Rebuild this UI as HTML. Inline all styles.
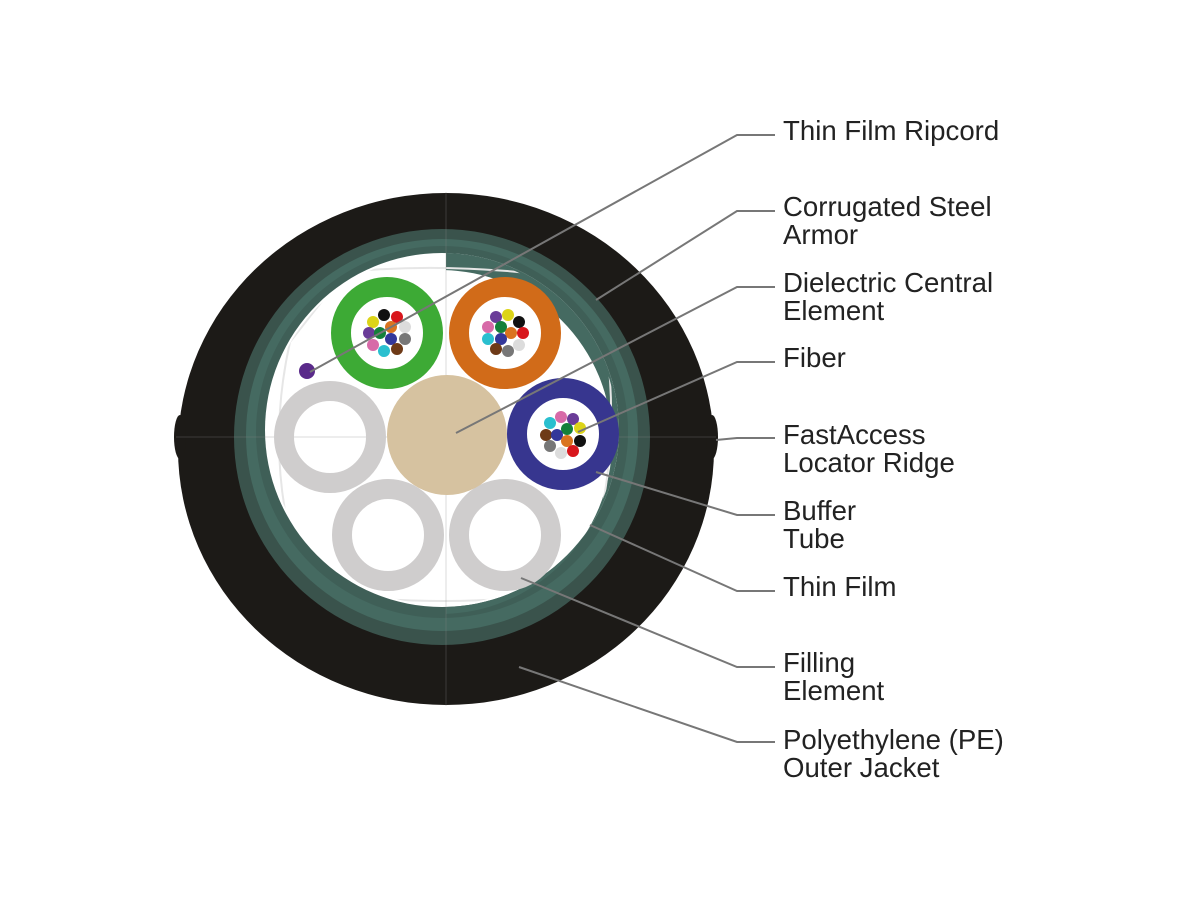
<!DOCTYPE html>
<html><head><meta charset="utf-8"><style>
html,body{margin:0;padding:0;background:#fff;width:1200px;height:900px;overflow:hidden}
text{font-family:"Liberation Sans",Arial,sans-serif;font-size:27.6px;fill:#222}
</style></head><body>
<svg width="1200" height="900" viewBox="0 0 1200 900" xmlns="http://www.w3.org/2000/svg">
<defs>
<clipPath id="rh"><rect x="446" y="0" width="400" height="900"/></clipPath>
<clipPath id="wc"><circle cx="442" cy="430" r="175"/></clipPath>
</defs>
<ellipse cx="446" cy="449" rx="268" ry="256" fill="#1c1a17"/>
<ellipse cx="180" cy="437" rx="6" ry="22" fill="#1c1a17"/>
<ellipse cx="712" cy="437" rx="6" ry="22" fill="#1c1a17"/>
<circle cx="442" cy="437" r="208" fill="#3a534c"/>
<circle cx="442" cy="435" r="196" fill="#456a61"/>
<circle cx="442" cy="432" r="186" fill="#3f5f57"/>
<circle cx="442" cy="430" r="177" fill="#fff"/>
<path fill-rule="evenodd" clip-path="url(#rh)" fill="#456a61" d="M265 430 A177 177 0 1 0 619 430 A177 177 0 1 0 265 430 Z M268 442 A172 172 0 1 0 612 442 A172 172 0 1 0 268 442 Z"/>
<g clip-path="url(#wc)">
<path d="M345 272 Q445 262 555 276 L606 342 Q620 440 596 536 L538 596 Q445 606 348 596 L290 536 Q268 440 290 342 Z" fill="none" stroke="#e6e6e6" stroke-width="2"/>
</g>
<line x1="176" y1="437" x2="716" y2="437" stroke="#888" stroke-opacity="0.3" stroke-width="1"/>
<line x1="446" y1="192" x2="446" y2="706" stroke="#888" stroke-opacity="0.3" stroke-width="1"/>
<circle cx="330" cy="437" r="46" fill="none" stroke="#cfcdcd" stroke-width="20"/>
<circle cx="388" cy="535" r="46" fill="none" stroke="#cfcdcd" stroke-width="20"/>
<circle cx="505" cy="535" r="46" fill="none" stroke="#cfcdcd" stroke-width="20"/>
<circle cx="447" cy="435" r="60" fill="#d6c2a0"/>
<circle cx="387" cy="333" r="46" fill="#fff" stroke="#3daa35" stroke-width="20"/>
<circle cx="505" cy="333" r="46" fill="#fff" stroke="#d16b19" stroke-width="20"/>
<circle cx="563" cy="434" r="46" fill="#fff" stroke="#37368f" stroke-width="20"/>
<g>
<circle cx="384" cy="315" r="6" fill="#111"/><circle cx="397" cy="317" r="6" fill="#d8161c"/><circle cx="373" cy="322" r="6" fill="#dcd418"/><circle cx="391" cy="327" r="6" fill="#da7420"/><circle cx="405" cy="327" r="6" fill="#dcdcdc"/><circle cx="369" cy="333" r="6" fill="#6a3c98"/><circle cx="380" cy="333" r="6" fill="#14803a"/><circle cx="391" cy="339" r="6" fill="#33379a"/><circle cx="405" cy="339" r="6" fill="#777"/><circle cx="373" cy="345" r="6" fill="#d76aa8"/><circle cx="384" cy="351" r="6" fill="#2abfcf"/><circle cx="397" cy="349" r="6" fill="#6e3a17"/>
<circle cx="496" cy="317" r="6" fill="#6a3c98"/><circle cx="508" cy="315" r="6" fill="#dcd418"/><circle cx="519" cy="322" r="6" fill="#111"/><circle cx="488" cy="327" r="6" fill="#d76aa8"/><circle cx="501" cy="327" r="6" fill="#14803a"/><circle cx="511" cy="333" r="6" fill="#da7420"/><circle cx="523" cy="333" r="6" fill="#d8161c"/><circle cx="488" cy="339" r="6" fill="#2abfcf"/><circle cx="501" cy="339" r="6" fill="#33379a"/><circle cx="519" cy="345" r="6" fill="#dcdcdc"/><circle cx="496" cy="349" r="6" fill="#6e3a17"/><circle cx="508" cy="351" r="6" fill="#777"/>
<circle cx="561" cy="417" r="6" fill="#d76aa8"/><circle cx="573" cy="419" r="6" fill="#6a3c98"/><circle cx="550" cy="423" r="6" fill="#2abfcf"/><circle cx="567" cy="429" r="6" fill="#14803a"/><circle cx="580" cy="428" r="6" fill="#dcd418"/><circle cx="546" cy="435" r="6" fill="#6e3a17"/><circle cx="557" cy="435" r="6" fill="#33379a"/><circle cx="567" cy="441" r="6" fill="#da7420"/><circle cx="580" cy="441" r="6" fill="#111"/><circle cx="550" cy="446" r="6" fill="#777"/><circle cx="561" cy="453" r="6" fill="#dcdcdc"/><circle cx="573" cy="451" r="6" fill="#d8161c"/>
</g>
<circle cx="307" cy="371" r="8" fill="#5a2a8a"/>
<g fill="none" stroke="#777" stroke-width="2">
<polyline points="310,372 737,135 775,135"/>
<polyline points="596,300 737,211 775,211"/>
<polyline points="456,433 737,287 775,287"/>
<polyline points="578,432 737,362 775,362"/>
<polyline points="716,440 737,438 775,438"/>
<polyline points="596,472 737,515 775,515"/>
<polyline points="590,525 737,591 775,591"/>
<polyline points="521,578 737,667 775,667"/>
<polyline points="519,667 737,742 775,742"/>
</g>
<text x="783" y="140">Thin Film Ripcord</text>
<text x="783" y="216">Corrugated Steel</text><text x="783" y="244">Armor</text>
<text x="783" y="292">Dielectric Central</text><text x="783" y="320">Element</text>
<text x="783" y="367">Fiber</text>
<text x="783" y="444">FastAccess</text><text x="783" y="472">Locator Ridge</text>
<text x="783" y="520">Buffer</text><text x="783" y="548">Tube</text>
<text x="783" y="596">Thin Film</text>
<text x="783" y="672">Filling</text><text x="783" y="700">Element</text>
<text x="783" y="749">Polyethylene (PE)</text><text x="783" y="777">Outer Jacket</text>
</svg>
</body></html>
